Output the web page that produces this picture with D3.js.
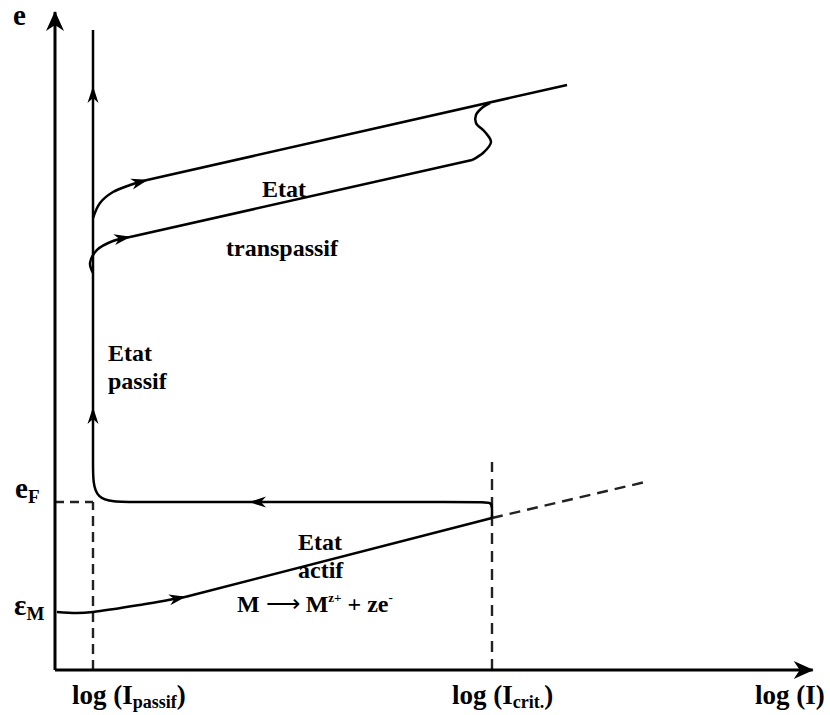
<!DOCTYPE html>
<html><head><meta charset="utf-8">
<script src="https://cdn.jsdelivr.net/npm/d3@7"></script>
<style>body{margin:0;background:#fff}</style>
</head><body><svg id="c" width="830" height="715"></svg>
<script>
// ---- data (arbitrary units: x = log(I), y = potential e) ----
const logIPassif = 0.5, logICrit = 5.75, eF = 2.545, epsM = 0.864;
const axisEnd = 9.97;

const activeCurve = [[0.026,0.879],[0.289,0.864],[0.5,0.879],[1.118,0.985],[1.711,1.106]];
const activeLine = [[1.711,1.106],[5.75,2.303]];
const activeExtension = [[5.75,2.303],[7.763,2.848]];
const passiveReturn = [[5.75,2.303],[5.75,2.424],[5.75,2.545],[5.6,2.545],[2.566,2.545]];
const passiveCorner = [[2.566,2.545],[0.987,2.545],[0.5,2.545],[0.5,3.106],[0.5,3.97]];
const passiveRise = [[0.5,3.97],[0.5,8.833]];
const passiveTop = [[0.5,8.833],[0.5,9.697]];
const transUpperCurve = [[0.5,6.848],[0.592,7.076],[0.763,7.242],[0.987,7.348],[1.211,7.424]];
const transUpperLine = [[1.211,7.424],[6.737,8.864]];
const transLowerCurve = [[0.5,6.015],[0.461,6.167],[0.553,6.364],[0.763,6.5],[0.987,6.561]];
const transLowerLine = [[0.987,6.561],[5.487,7.727]];
const transLowerS = [[5.487,7.727],[5.632,7.833],[5.737,8.0],[5.658,8.152],[5.539,8.288],[5.539,8.409],[5.632,8.53],[5.724,8.591]];

const xTickLabels = [["log (I", "passif", ")"], ["log (I", "crit.", ")"], ["log (I)", "", ""]];
const yLabels = [["e", ""], ["e", "F"], ["ε", "M"]];
const regionLabels = [["Etat", "transpassif"], ["Etat", "passif"], ["Etat", "actif"]];
const reaction = ["M ", "⟶", " M", "z+", " + ze", "-"];

// ---- drawing ----
const svg = d3.select("#c");
const x = d3.scaleLinear().domain([0, 10]).range([55, 815]);
const y = d3.scaleLinear().domain([0, 10]).range([670, 10]);
const FONT = "'Liberation Serif', 'Times New Roman', serif";

const defs = svg.append("defs");
function marker(id, d, size) {
  defs.append("marker").attr("id", id)
    .attr("markerUnits", "userSpaceOnUse")
    .attr("viewBox", `${-size} ${-size/2} ${size+2} ${size}`)
    .attr("markerWidth", size + 2).attr("markerHeight", size)
    .attr("refX", 0).attr("refY", 0).attr("orient", "auto")
    .append("path").attr("d", d).attr("fill", "#000");
}
marker("axArrow", "M1,0 L-19,-9 L-13,0 L-19,9 Z", 24);
marker("smArrow", "M1,0 L-16,-5.5 L-11,0 L-16,5.5 Z", 20);

const lin = d3.line().x(d => x(d[0])).y(d => y(d[1]));
const basis = d3.line().x(d => x(d[0])).y(d => y(d[1])).curve(d3.curveBasis);
const cat = d3.line().x(d => x(d[0])).y(d => y(d[1])).curve(d3.curveCatmullRom.alpha(0.5));

function draw(gen, data, opts = {}) {
  const p = svg.append("path").attr("d", gen(data)).attr("fill", "none")
    .attr("stroke", opts.color || "#000").attr("stroke-width", opts.w || 2.5);
  if (opts.dash) p.attr("stroke-dasharray", opts.dash);
  if (opts.arrow) p.attr("marker-end", `url(#${opts.arrow})`);
  return p;
}

// dashed reference lines
draw(lin, [[0, eF], [logIPassif, eF]], {dash: "9,6", w: 2.4, color: "#222"});
draw(lin, [[logIPassif, 0], [logIPassif, eF]], {dash: "10,6", w: 2.4, color: "#222"});
draw(lin, [[logICrit, 0], [logICrit, 3.15]], {dash: "11,7", w: 2.4, color: "#222"});
draw(lin, activeExtension, {dash: "11,7", w: 2.4, color: "#222"});

// axes
draw(lin, [[0, 0], [axisEnd, 0]], {w: 3, arrow: "axArrow"});
draw(lin, [[0, 0], [0, axisEnd]], {w: 3, arrow: "axArrow"});

// active branch
draw(cat, activeCurve, {arrow: "smArrow"});
draw(lin, activeLine);
// passive return and vertical
draw(basis, passiveReturn, {arrow: "smArrow"});
draw(basis, passiveCorner, {arrow: "smArrow"});
draw(lin, passiveRise, {arrow: "smArrow"});
draw(lin, passiveTop);
// transpassive branches
draw(cat, transUpperCurve, {arrow: "smArrow"});
draw(lin, transUpperLine);
draw(cat, transLowerCurve, {arrow: "smArrow"});
draw(lin, transLowerLine);
draw(cat, transLowerS);

// ---- text ----
function txt(px, py, size) {
  return svg.append("text").attr("x", px).attr("y", py)
    .attr("font-family", FONT).attr("font-weight", "bold")
    .attr("font-size", size).attr("fill", "#000");
}
function subLabel(px, py, size, parts, subSize, subDy) {
  const t = txt(px, py, size);
  t.append("tspan").text(parts[0]);
  if (parts[1]) t.append("tspan").attr("font-size", subSize).attr("dy", subDy).text(parts[1]);
  if (parts[2]) t.append("tspan").attr("dy", -subDy).text(parts[2]);
  return t;
}
// x labels
subLabel(x(logIPassif) - 21, 704, 27, xTickLabels[0], 18, 4);
subLabel(x(logICrit) - 40, 704, 27, xTickLabels[1], 18, 4);
subLabel(755, 704, 27, xTickLabels[2], 18, 4);
// y labels
subLabel(13, 25, 29, yLabels[0], 19, 5);
subLabel(15, y(eF) - 4, 29, yLabels[1], 19, 5);
subLabel(14, y(epsM) + 2, 29, yLabels[2], 19, 5);
// region labels
txt(262, 197, 24).text(regionLabels[0][0]);
txt(226, 256, 24).text(regionLabels[0][1]);
txt(108, 361, 24).text(regionLabels[1][0]);
txt(108, 389, 24).text(regionLabels[1][1]);
txt(298, 550, 24).text(regionLabels[2][0]);
txt(298, 578, 24).text(regionLabels[2][1]);
const r = txt(237, 612, 24);
r.append("tspan").text(reaction[0]);
r.append("tspan").attr("font-weight", "normal").text(reaction[1]);
r.append("tspan").text(reaction[2]);
r.append("tspan").attr("font-size", 13).attr("dy", -10).text(reaction[3]);
r.append("tspan").attr("dy", 10).text(reaction[4]);
r.append("tspan").attr("font-size", 13).attr("dy", -10).text(reaction[5]);
</script>
</body></html>
